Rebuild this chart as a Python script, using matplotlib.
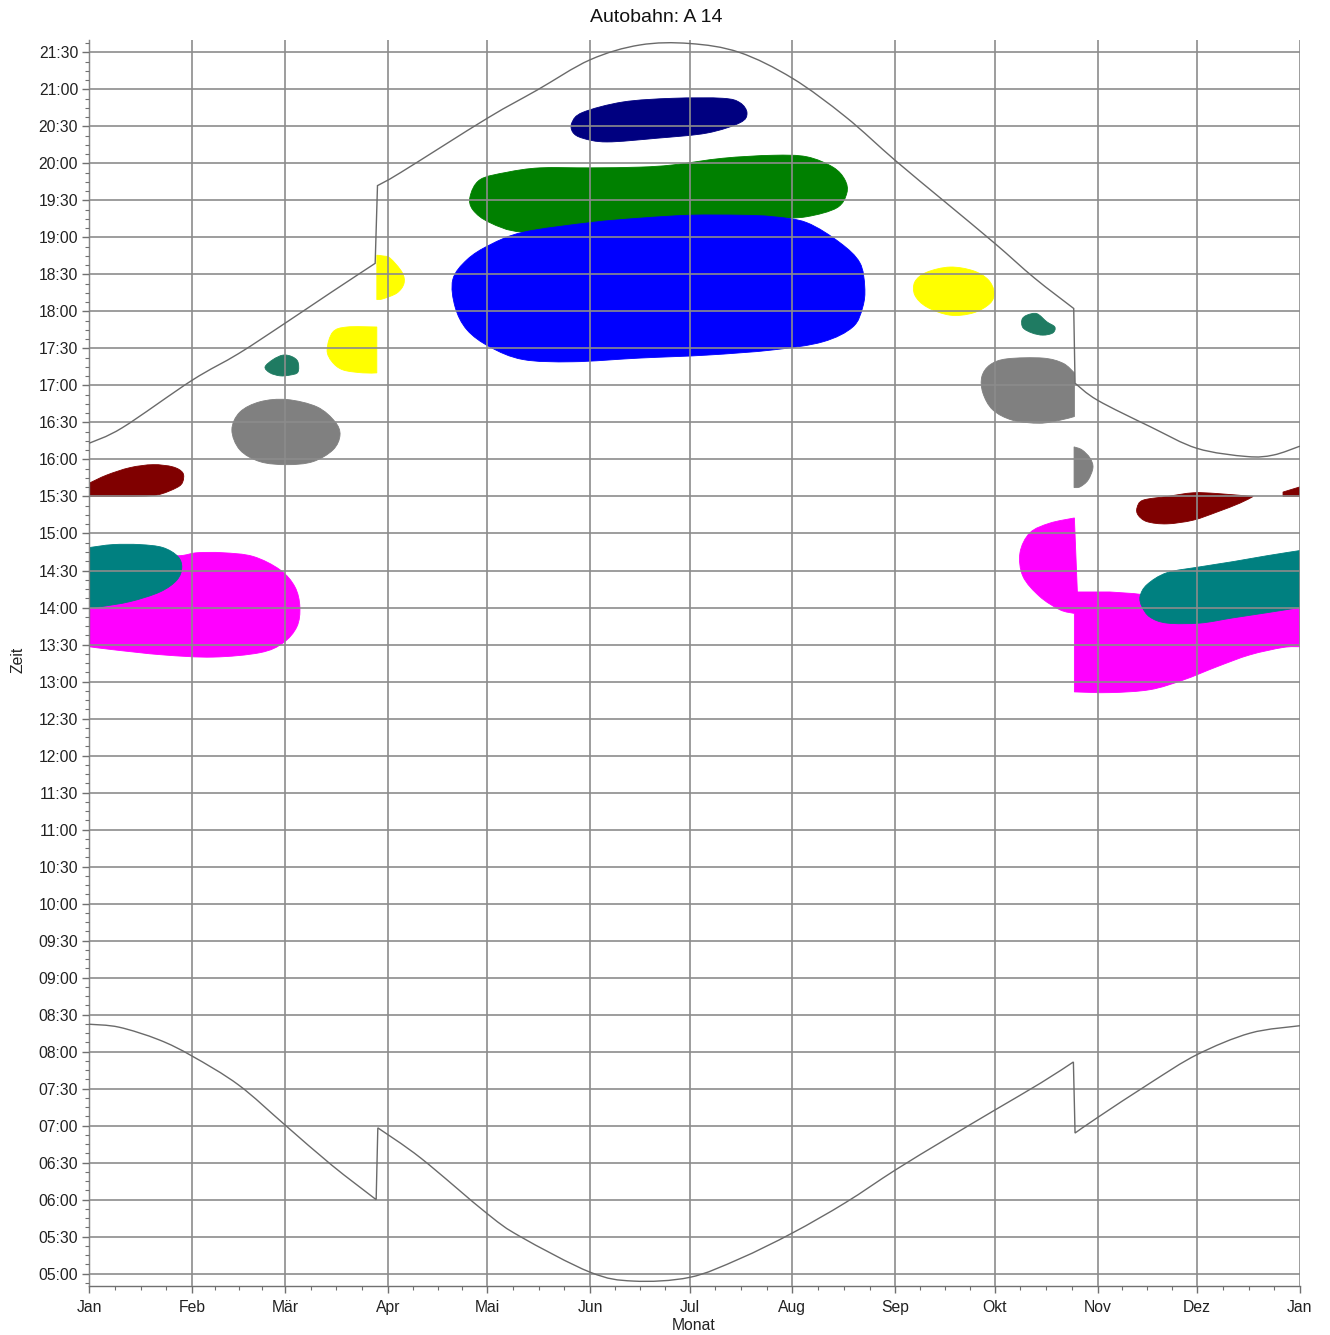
import matplotlib
matplotlib.use('Agg')
import matplotlib.pyplot as plt
from matplotlib.patches import PathPatch
from matplotlib.path import Path
from matplotlib.ticker import FuncFormatter, MultipleLocator, FixedLocator

plt.rcParams['font.family'] = ['Liberation Sans', 'DejaVu Sans']

# ---------------- data ----------------
month_days = [0, 31, 59, 90, 120, 151, 181, 212, 243, 273, 304, 334, 365]
month_labels = ['Jan', 'Feb', 'Mär', 'Apr', 'Mai', 'Jun', 'Jul', 'Aug', 'Sep', 'Okt', 'Nov', 'Dez', 'Jan']

# sunrise / sunset (day of year, decimal hour); daylight-saving jumps after the listed indices
sunrise_day = [0, 9, 21, 31, 45, 59, 73, 86.5, 87.0, 100, 120, 130, 151, 164, 181,
               196, 212, 228, 243, 258, 273, 287, 296.7, 297.2, 304, 320, 334, 350, 365]
sunrise_hour = [8.37, 8.33, 8.16, 7.94, 7.55, 7.01, 6.47, 6.00, 6.97, 6.56, 5.81, 5.50, 5.02, 4.90, 4.95,
                5.20, 5.55, 5.96, 6.40, 6.81, 7.21, 7.58, 7.86, 6.90, 7.11, 7.58, 7.96, 8.25, 8.35]
sunrise_jumps = [7, 22]

sunset_day = [0, 10, 31, 45, 59, 73, 86.2, 86.9, 94, 120, 135, 151, 166, 181, 196, 212, 228,
              243, 258, 273, 285, 296.8, 297.2, 304, 320, 334, 349, 357, 365]
sunset_hour = [16.22, 16.43, 17.07, 17.43, 17.84, 18.26, 18.65, 19.70, 19.88, 20.61, 20.99, 21.40, 21.60,
               21.62, 21.50, 21.15, 20.63, 20.04, 19.48, 18.92, 18.45, 18.04, 17.03, 16.80, 16.44, 16.15,
               16.04, 16.06, 16.18]
sunset_jumps = [6, 21]

# glare areas (outline: day of year, decimal hour); *_corners = vertices with sharp edges
navy_day = [145.5, 148.8, 160.9, 176.0, 191.0, 196.2, 198.3, 196.2, 186.2, 171.1, 156.1, 148.8, 145.8]
navy_hour = [20.55, 20.69, 20.83, 20.88, 20.88, 20.82, 20.68, 20.55, 20.41, 20.34, 20.29, 20.34, 20.42]

green_day = [114.8, 117.8, 125.9, 135.9, 151.0, 166.0, 176.0, 191.0, 206.1, 216.3, 224.2, 227.8, 228.4,
             225.4, 216.3, 206.1, 184.1, 153.9, 130.8, 120.8, 115.7]
green_hour = [19.55, 19.78, 19.88, 19.94, 19.94, 19.95, 19.98, 20.07, 20.11, 20.09, 19.95, 19.78, 19.60,
              19.40, 19.28, 19.25, 19.17, 19.07, 19.07, 19.20, 19.37]

blue_day = [130.8, 151.0, 166.0, 181.1, 196.2, 206.1, 216.3, 226.3, 232.3, 233.8, 233.2, 230.2, 221.2,
            206.1, 186.2, 166.0, 145.8, 130.8, 120.8, 113.9, 110.3, 109.6, 113.9, 120.8]
blue_hour = [19.07, 19.20, 19.26, 19.30, 19.30, 19.28, 19.20, 18.93, 18.66, 18.33, 18.06, 17.79, 17.59,
             17.48, 17.41, 17.37, 17.32, 17.35, 17.52, 17.75, 18.06, 18.43, 18.70, 18.90]

yellow1_day = [86.7, 88.5, 90.7, 94.3, 94.9, 92.8, 88.5, 86.7]
yellow1_hour = [18.76, 18.75, 18.72, 18.53, 18.38, 18.25, 18.17, 18.16]
yellow1_corners = [0, 7]

yellow2_day = [71.7, 73.4, 77.7, 86.7, 86.7, 82.5, 76.5, 73.2]
yellow2_hour = [17.48, 17.72, 17.79, 17.79, 17.17, 17.17, 17.21, 17.32]
yellow2_corners = [3, 4]

yellow3_day = [248.9, 252.5, 259.5, 266.5, 271.0, 272.8, 271.6, 266.5, 259.5, 252.5, 248.9]
yellow3_hour = [18.40, 18.53, 18.60, 18.55, 18.43, 18.26, 18.11, 17.98, 17.95, 18.06, 18.22]

seagreen1_day = [53.0, 55.4, 58.4, 61.1, 62.9, 62.9, 60.5, 57.5, 54.5]
seagreen1_hour = [17.25, 17.35, 17.41, 17.39, 17.32, 17.18, 17.14, 17.13, 17.17]

seagreen2_day = [281.2, 282.7, 285.7, 288.7, 291.1, 290.5, 287.5, 284.2, 281.5]
seagreen2_hour = [17.89, 17.95, 17.97, 17.86, 17.79, 17.71, 17.68, 17.71, 17.78]

gray1_day = [43.0, 45.4, 51.5, 59.6, 68.7, 74.1, 75.6, 73.5, 67.4, 59.6, 51.5, 45.4]
gray1_hour = [16.40, 16.64, 16.78, 16.81, 16.71, 16.51, 16.33, 16.13, 15.97, 15.93, 15.97, 16.13]

gray2_day = [269.1, 271.6, 276.7, 287.5, 293.6, 297.0, 297.0, 292.6, 286.5, 278.4, 272.4, 269.4]
gray2_hour = [17.12, 17.28, 17.36, 17.37, 17.30, 17.17, 16.58, 16.53, 16.49, 16.53, 16.67, 16.90]
gray2_corners = [5, 6]

gray3_day = [296.9, 299.3, 301.7, 302.6, 301.1, 298.7, 296.9]
gray3_hour = [16.17, 16.13, 16.02, 15.89, 15.72, 15.63, 15.62]
gray3_corners = [0, 6]

darkred1_day = [0, 5.3, 12.3, 19.2, 25.2, 28.2, 28.2, 26.4, 20.4, 12.3, 0]
darkred1_hour = [15.68, 15.79, 15.89, 15.93, 15.90, 15.82, 15.70, 15.62, 15.52, 15.50, 15.50]
darkred1_corners = [0, 9, 10]

darkred2_day = [315.9, 317.7, 324.9, 332.8, 340.0, 350.9, 346.9, 340.0, 332.8, 324.9, 318.9, 316.2]
darkred2_hour = [15.35, 15.45, 15.50, 15.55, 15.54, 15.50, 15.41, 15.29, 15.18, 15.13, 15.16, 15.25]
darkred2_corners = [5]

darkred3_day = [359.9, 365, 365, 359.9]
darkred3_hour = [15.56, 15.63, 15.50, 15.50]
darkred3_corners = [0, 1, 2, 3]

magenta1_day = [0, 18.3, 27.3, 32.5, 40.3, 49.4, 57.5, 62.0, 63.5, 62.6, 58.4, 51.5, 37.3, 22.2, 7.1, 0]
magenta1_hour = [14.64, 14.70, 14.70, 14.74, 14.74, 14.69, 14.51, 14.28, 14.01, 13.74, 13.52, 13.39,
                 13.33, 13.36, 13.43, 13.47]
magenta1_corners = [0, 15]

magenta2_day = [297.0, 289.6, 283.6, 280.6, 281.5, 286.5, 292.6, 297.0, 297.0, 307.7, 319.8, 329.8, 340.0,
                349.9, 359.9, 365, 365, 334.9, 318.3, 307.7, 297.9]
magenta2_hour = [15.21, 15.14, 15.01, 14.74, 14.42, 14.15, 13.97, 13.92, 12.86, 12.85, 12.89, 13.02, 13.20,
                 13.36, 13.46, 13.47, 14.10, 14.04, 14.17, 14.21, 14.21]
magenta2_corners = [0, 7, 8, 15, 16, 19, 20]

teal1_day = [0, 7.1, 15.3, 22.2, 26.7, 27.9, 26.4, 21.3, 12.3, 3.2, 0]
teal1_hour = [14.81, 14.85, 14.85, 14.81, 14.69, 14.54, 14.37, 14.21, 14.08, 14.01, 14.00]
teal1_corners = [0, 10]

teal2_day = [316.8, 318.9, 324.9, 334.9, 344.8, 355.1, 365, 365, 355.1, 344.8, 334.9, 324.9, 319.8, 317.4]
teal2_hour = [14.15, 14.31, 14.47, 14.55, 14.62, 14.70, 14.77, 14.00, 13.93, 13.86, 13.79, 13.79, 13.87, 14.01]
teal2_corners = [6, 7]

areas = [
    ('#ff00ff', magenta1_day, magenta1_hour, magenta1_corners),
    ('#ff00ff', magenta2_day, magenta2_hour, magenta2_corners),
    ('#008080', teal1_day, teal1_hour, teal1_corners),
    ('#008080', teal2_day, teal2_hour, teal2_corners),
    ('#800000', darkred1_day, darkred1_hour, darkred1_corners),
    ('#800000', darkred2_day, darkred2_hour, darkred2_corners),
    ('#800000', darkred3_day, darkred3_hour, darkred3_corners),
    ('#808080', gray1_day, gray1_hour, []),
    ('#808080', gray2_day, gray2_hour, gray2_corners),
    ('#808080', gray3_day, gray3_hour, gray3_corners),
    ('#1f7b62', seagreen1_day, seagreen1_hour, []),
    ('#1f7b62', seagreen2_day, seagreen2_hour, []),
    ('#ffff00', yellow1_day, yellow1_hour, yellow1_corners),
    ('#ffff00', yellow2_day, yellow2_hour, yellow2_corners),
    ('#ffff00', yellow3_day, yellow3_hour, []),
    ('#008000', green_day, green_hour, []),
    ('#0000ff', blue_day, blue_hour, []),
    ('#000080', navy_day, navy_hour, []),
]


# ---------------- helpers: smooth outlines through the read points ----------------
def closed_smooth_path(d, h, corners):
    pts = list(zip(d, h))
    n = len(pts)
    cs = set(corners)
    verts = [pts[0]]
    codes = [Path.MOVETO]
    for i in range(n):
        j = (i + 1) % n
        p0, p1 = pts[i], pts[j]
        if i in cs and j in cs:
            verts.append(p1)
            codes.append(Path.LINETO)
            continue
        pm = p0 if i in cs else pts[(i - 1) % n]
        pn = p1 if j in cs else pts[(j + 1) % n]
        c1 = (p0[0] + (p1[0] - pm[0]) / 6, p0[1] + (p1[1] - pm[1]) / 6)
        c2 = (p1[0] - (pn[0] - p0[0]) / 6, p1[1] - (pn[1] - p0[1]) / 6)
        verts += [c1, c2, p1]
        codes += [Path.CURVE4] * 3
    verts.append(pts[0])
    codes.append(Path.CLOSEPOLY)
    return Path(verts, codes)


def open_smooth_path(d, h, jumps):
    pts = list(zip(d, h))
    breaks = [-1] + list(jumps) + [len(pts) - 1]
    verts, codes = [], []
    for k in range(len(breaks) - 1):
        a, b = breaks[k] + 1, breaks[k + 1]
        piece = pts[a:b + 1]
        verts.append(piece[0])
        codes.append(Path.MOVETO if k == 0 else Path.LINETO)
        m = len(piece)
        for i in range(m - 1):
            p0, p1 = piece[i], piece[i + 1]
            pm = piece[i - 1] if i > 0 else p0
            pn = piece[i + 2] if i + 2 < m else p1
            c1 = (p0[0] + (p1[0] - pm[0]) / 6, p0[1] + (p1[1] - pm[1]) / 6)
            c2 = (p1[0] - (pn[0] - p0[0]) / 6, p1[1] - (pn[1] - p0[1]) / 6)
            verts += [c1, c2, p1]
            codes += [Path.CURVE4] * 3
    return Path(verts, codes)


# ---------------- figure ----------------
fig = plt.figure(figsize=(13.3, 13.35), dpi=100)
ax = fig.add_axes([0.0671, 0.0367, 0.9103, 0.9333])

for color, d, h, corners in areas:
    ax.add_patch(PathPatch(closed_smooth_path(d, h, corners), facecolor=color,
                           edgecolor=color, linewidth=0.6, zorder=1))

ax.add_patch(PathPatch(open_smooth_path(sunrise_day, sunrise_hour, sunrise_jumps),
                       fill=False, edgecolor='#6a6a6a', lw=1.0, zorder=3))
ax.add_patch(PathPatch(open_smooth_path(sunset_day, sunset_hour, sunset_jumps),
                       fill=False, edgecolor='#6a6a6a', lw=1.0, zorder=3))

ax.set_xlim(0, 365)
ax.set_ylim(4 + 50 / 60, 21 + 40 / 60)

ax.xaxis.set_major_locator(FixedLocator(month_days))
ax.set_xticklabels(month_labels)
minor_x = []
for a, b in zip(month_days[:-1], month_days[1:]):
    minor_x += [a + (b - a) * k / 4 for k in (1, 2, 3)]
ax.xaxis.set_minor_locator(FixedLocator(minor_x))

ax.yaxis.set_major_locator(MultipleLocator(0.5))
ax.yaxis.set_minor_locator(MultipleLocator(0.125))


def hhmm(v, pos):
    m = int(round(v * 60))
    return f'{m // 60:02d}:{m % 60:02d}'


ax.yaxis.set_major_formatter(FuncFormatter(hhmm))

ax.grid(True, which='major', color='#8c8c8c', lw=1.2)
ax.set_axisbelow(False)

for s in ('top', 'right'):
    ax.spines[s].set_visible(False)
for s in ('left', 'bottom'):
    ax.spines[s].set_color('#707070')
    ax.spines[s].set_linewidth(1.0)

ax.tick_params(which='major', length=5, width=1.0, color='#707070', labelsize=11.3,
               labelcolor='#222222', pad=3)
ax.tick_params(axis='x', which='major', pad=5)
ax.tick_params(which='minor', length=3, width=0.8, color='#707070')

fig.text(656 / 1330, 1 - 18 / 1335, 'Autobahn: A 14', ha='center', va='center',
         fontsize=14, color='#111111')
fig.text(694 / 1330, 1 - 1326 / 1335, 'Monat', ha='center', va='center',
         fontsize=11.3, color='#222222')
fig.text(18 / 1330, 1 - 660 / 1335, 'Zeit', ha='center', va='center', rotation=90,
         fontsize=11.3, color='#222222')

fig.savefig('out.png', dpi=100)
